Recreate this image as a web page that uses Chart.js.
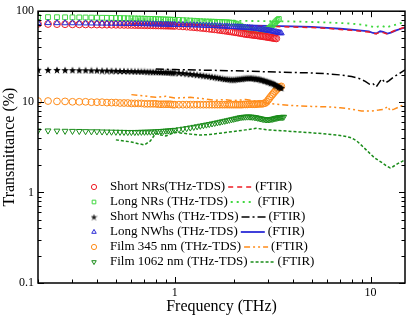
<!DOCTYPE html>
<html>
<head>
<meta charset="utf-8">
<script src="https://cdn.jsdelivr.net/npm/chart.js@4.4.0/dist/chart.umd.min.js"></script>
<style>
html, body { margin: 0; padding: 0; background: #fff; }
</style>
</head>
<body>
<canvas id="c" width="410" height="316"></canvas>
<script>
// THz-TDS frequency grid (THz)
const tdsFreq = [
  0.200,0.225,0.250,0.275,0.300,0.325,0.350,0.375,0.400,0.425,
  0.450,0.475,0.500,0.525,0.550,0.575,0.600,0.625,0.650,0.675,
  0.700,0.725,0.750,0.775,0.800,0.825,0.850,0.875,0.900,0.925,
  0.950,0.975,1.000,1.05,1.10,1.15,1.20,1.25,1.30,1.35,
  1.40,1.45,1.50,1.55,1.60,1.65,1.70,1.75,1.80,1.85,
  1.90,1.95,2.00,2.05,2.10,2.15,2.20,2.25,2.30,2.35,
  2.40,2.45,2.50,2.55,2.60,2.65,2.70,2.75,2.80,2.85,
  2.90,2.95,3.00,3.05,3.10,3.15,3.20,3.25,3.30,3.35,
  3.40,3.45,3.50,3.55,3.60
];

// transmittance (%), THz-TDS
const shortNRsTds = [
  72.5,72.2,72.0,71.8,71.6,71.5,71.4,71.3,71.2,71.0,
  71.0,70.9,70.8,70.7,70.6,70.5,70.4,70.3,70.2,70.1,
  70.0,69.9,69.8,69.7,69.6,69.5,69.4,69.3,69.2,69.1,
  69.0,68.9,68.8,68.5,68.0,67.5,67.0,66.5,66.0,65.5,
  65.0,64.5,64.0,63.5,63.0,62.5,62.0,61.5,61.0,60.5,
  60.0,59.5,59.0,58.5,58.0,57.5,57.0,56.5,56.0,55.7,
  55.4,55.1,54.8,54.5,54.2,53.9,53.6,53.3,53.0,52.7,
  52.4,52.1,51.8,51.5,51.2,50.9,50.6,50.3,50.0
];
const longNRsTds = [
  86.0,86.0,85.8,85.6,85.5,85.4,85.2,85.0,84.8,84.6,
  84.5,84.3,84.1,84.0,83.8,83.6,83.4,83.2,83.0,82.8,
  82.6,82.4,82.2,82.0,81.8,81.6,81.4,81.2,81.0,80.8,
  80.6,80.4,80.2,80.0,79.6,79.2,78.8,78.4,78.0,77.6,
  77.2,77.0,76.8,76.6,76.4,76.2,76.0,75.8,75.6,75.3,
  75.0,74.6,74.0,73.0,71.5,69.5,67.5,65.5,64.0,63.0,
  62.3,61.8,61.4,61.2,61.0,61.0,61.0,61.2,61.4,61.8,
  62.3,63.0,64.0,65.5,67.5,70.0,72.5,75.0,77.5,80.0,
  82.0
];
const shortNWhsTds = [
  22.6,22.5,22.5,22.4,22.4,22.3,22.3,22.2,22.2,22.1,
  22.1,22.0,22.0,21.9,21.9,21.8,21.8,21.7,21.7,21.6,
  21.6,21.5,21.5,21.4,21.4,21.3,21.3,21.2,21.2,21.1,
  21.1,21.0,21.0,20.9,20.7,20.5,20.3,20.1,19.9,19.7,
  19.5,19.3,19.1,18.9,18.7,18.5,18.3,18.1,17.9,17.8,
  17.7,17.6,17.6,17.7,17.8,17.9,18.0,18.1,18.2,18.3,
  18.3,18.3,18.2,18.1,18.0,17.9,17.8,17.6,17.4,17.2,
  17.0,16.8,16.6,16.4,16.2,16.0,15.8,15.5,15.2,14.9,
  14.6,14.4,14.2
];
const longNWhsTds = [
  74.5,74.3,74.2,74.0,74.0,73.8,73.7,73.6,73.5,73.4,
  73.3,73.2,73.1,73.0,72.9,72.8,72.7,72.6,72.5,72.4,
  72.3,72.2,72.1,72.0,71.9,71.8,71.7,71.6,71.5,71.4,
  71.3,71.2,71.1,71.0,70.8,70.6,70.4,70.2,70.0,69.8,
  69.6,69.4,69.2,69.0,68.8,68.6,68.4,68.2,68.0,67.8,
  67.6,67.4,67.2,67.0,66.8,66.6,66.4,66.2,66.0,65.8,
  65.5,65.2,64.9,64.6,64.3,64.0,63.6,63.2,62.8,62.4,
  62.0,61.6,61.2,60.8,60.4,60.0,59.6,59.2,58.8,58.4,
  58.0,57.6,57.2
];
const film345Tds = [
  10.2,10.2,10.1,10.1,10.0,10.0,10.0,9.9,9.9,9.9,
  9.8,9.8,9.8,9.7,9.7,9.7,9.6,9.6,9.6,9.6,
  9.5,9.5,9.5,9.5,9.5,9.4,9.4,9.4,9.4,9.4,
  9.4,9.3,9.3,9.3,9.3,9.3,9.3,9.3,9.3,9.3,
  9.3,9.3,9.3,9.3,9.3,9.3,9.3,9.3,9.3,9.3,
  9.3,9.3,9.3,9.3,9.3,9.3,9.3,9.35,9.35,9.35,
  9.4,9.4,9.4,9.4,9.4,9.45,9.5,9.5,9.5,9.6,
  9.7,10.0,10.5,11.0,11.5,12.0,12.5,13.0,13.5,14.0,
  14.3,14.6,14.8
];
const film1062Tds = [
  4.80,4.80,4.78,4.76,4.75,4.74,4.72,4.70,4.70,4.68,
  4.67,4.66,4.65,4.64,4.63,4.62,4.62,4.62,4.63,4.64,
  4.65,4.66,4.67,4.68,4.70,4.72,4.74,4.76,4.78,4.80,
  4.82,4.85,4.88,4.95,5.02,5.10,5.18,5.26,5.34,5.42,
  5.50,5.58,5.66,5.74,5.82,5.90,5.98,6.06,6.14,6.22,
  6.30,6.38,6.46,6.54,6.62,6.70,6.76,6.80,6.82,6.84,
  6.84,6.82,6.80,6.76,6.70,6.64,6.58,6.52,6.46,6.42,
  6.38,6.36,6.36,6.38,6.42,6.46,6.50,6.56,6.62,6.66,
  6.70,6.74,6.76,6.78,6.80
];

// FTIR curves: frequency (THz) and transmittance (%)
const shortNRsFtirF = [0.6,1,2,3,4,5,6,7,8,9,9.8,10.3,10.7,11.2,11.6,12.2,12.7,13.5,14.3,15];
const shortNRsFtir  = [72,70.5,69,68,67,66,64.5,63,61.5,60,59,57,56.5,59,58,56,58.5,62,64.5,66.5];
const longNRsFtirF = [0.6,0.8,1,1.5,2,3,4,5,6,7,8,9,10,10.5,11,11.5,12,12.5,13.5,14.3,15];
const longNRsFtir  = [82,81,80,79,78.5,77.5,77,76,75,74,73,71,68.5,66,68,68.5,66,68,71,74,76];
const shortNWhsFtirF = [0.8,1,1.5,2,3,4,5,6,7,8,8.8,9.4,9.9,10.3,10.7,11,11.4,11.9,12.4,13,14,15];
const shortNWhsFtir  = [23,22.7,22.3,22,21.4,21.1,20.8,20.4,19.8,19,18,16.8,15.6,15.8,14.6,16,17.9,16.2,17,18.5,20.5,22.5];
const longNWhsFtirF = [0.6,0.8,1,1.5,2,3,4,5,6,7,8,9,9.8,10.3,10.7,11.2,11.6,12.2,12.7,13.5,14.3,15];
const longNWhsFtir  = [73,72,71.5,70.5,70,69,68,67,65.5,64,62.5,61,60,57.5,56.8,60,59,56.5,58,61.5,64,66];
const film345FtirF = [0.6,0.7,0.8,0.9,1,1.2,1.4,1.6,1.8,2,2.3,2.6,3,3.5,4,5,6,7,8,9,10,11,11.8,12.2,12.6,13.2,14,15];
const film345Ftir  = [12,11.6,11.2,11.5,11,11.2,10.8,10.4,10.6,10.3,10.6,10.2,9.6,9.3,9.1,8.9,8.8,8.6,8.3,7.9,7.9,8.1,8.3,8.9,8,8.3,8.8,9.4];
const film1062FtirF = [0.5,0.55,0.6,0.65,0.7,0.75,0.8,0.85,0.9,0.95,1,1.1,1.2,1.35,1.5,1.7,2,2.3,2.6,3,3.5,4,5,6,7,7.5,8,8.5,9,9.5,10,10.5,11,11.5,12,12.6,13,13.5,14,14.5,15];
const film1062Ftir  = [3.8,3.7,3.6,3.45,3.35,3.7,4.5,4.3,4.2,4.4,4.6,4.5,4.4,4.3,4.35,4.5,4.7,4.9,5.1,4.9,4.8,4.7,4.55,4.4,4.25,4.15,4,3.7,3.3,2.95,2.65,2.4,2.25,2.12,1.98,1.86,1.92,2.02,2.12,2.2,2.3];

const legendNames = [
  'Short NRs(THz-TDS)', 'Long NRs (THz-TDS)', 'Short NWhs (THz-TDS)',
  'Long NWhs (THz-TDS)', 'Film 345 nm (THz-TDS)', 'Film 1062 nm (THz-TDS)'
];
const xTickValues = [1, 10];
const yTickValues = [0.1, 1, 10, 100];

const serif = '"Liberation Serif", "Times New Roman", serif';
const colors = ['#ee1c25', '#40d840', '#000000', '#2b2bd6', '#ff8c1a', '#1a8c1a'];

// small filled star used as point style
function makeStar(size, color) {
  const cv = document.createElement('canvas');
  cv.width = size; cv.height = size;
  const c = cv.getContext('2d');
  const r = size / 2, ri = r * 0.42;
  c.fillStyle = color;
  c.beginPath();
  for (let k = 0; k < 10; k++) {
    const rad = k % 2 === 0 ? r : ri;
    const ang = -Math.PI / 2 + k * Math.PI / 5;
    c.lineTo(r + rad * Math.cos(ang), r + 0.4 + rad * Math.sin(ang));
  }
  c.closePath();
  c.fill();
  return cv;
}
const starBig = makeStar(8, '#000');
const starSmall = makeStar(7, '#222');

function pts(fs, vs) {
  return vs.map((v, i) => ({ x: fs[i], y: v }));
}

function tdsSet(label, values, color, style, rot, order) {
  return {
    label: label,
    data: pts(tdsFreq, values),
    showLine: false,
    borderColor: color,
    backgroundColor: 'rgba(0,0,0,0)',
    pointStyle: style,
    pointRotation: rot || 0,
    pointRadius: 3.4,
    pointBorderWidth: 1,
    order: order || 0
  };
}

function ftirSet(label, fs, values, color, dash, width) {
  return {
    label: label,
    data: pts(fs, values),
    showLine: true,
    borderColor: color,
    borderDash: dash,
    borderWidth: width,
    pointRadius: 0,
    fill: false,
    tension: 0,
    order: 1
  };
}

// frame with inward ticks on all four sides
const framePlugin = {
  id: 'frame',
  afterDatasetsDraw(chart) {
    const { ctx, chartArea: a, scales: { x, y } } = chart;
    ctx.save();
    ctx.strokeStyle = '#000';
    ctx.lineWidth = 1;
    ctx.beginPath();
    for (let d = -1; d <= 2; d++) {
      for (let m = 1; m < 10; m++) {
        const v = m * Math.pow(10, d);
        const len = m === 1 ? 6 : 3.5;
        if (v >= 0.2 && v <= 15) {
          const px = Math.round(x.getPixelForValue(v)) + 0.5;
          ctx.moveTo(px, a.bottom); ctx.lineTo(px, a.bottom - len);
          ctx.moveTo(px, a.top); ctx.lineTo(px, a.top + len);
        }
        if (v >= 0.1 && v <= 100) {
          const py = Math.round(y.getPixelForValue(v)) + 0.5;
          ctx.moveTo(a.left, py); ctx.lineTo(a.left + len, py);
          ctx.moveTo(a.right, py); ctx.lineTo(a.right - len, py);
        }
      }
    }
    ctx.stroke();
    ctx.lineWidth = 1.5;
    ctx.strokeRect(a.left, a.top, a.right - a.left, a.bottom - a.top);
    ctx.restore();
  }
};

// legend: marker + name, then FTIR line sample + "(FTIR)"
const legendPlugin = {
  id: 'pairLegend',
  afterDraw(chart) {
    const ctx = chart.ctx;
    ctx.save();
    ctx.font = '13px ' + serif;
    ctx.textBaseline = 'middle';
    legendNames.forEach((name, i) => {
      const y = 187 + i * 15;
      const tds = chart.data.datasets[i];
      const ftir = chart.data.datasets[i + 6];
      ctx.setLineDash([]);
      ctx.strokeStyle = tds.borderColor;
      ctx.fillStyle = 'rgba(0,0,0,0)';
      ctx.lineWidth = 1;
      const style = tds.pointStyle === starBig ? starSmall : tds.pointStyle;
      Chart.helpers.drawPoint(ctx, { pointStyle: style, radius: 2.6, borderWidth: 1, rotation: tds.pointRotation }, 94, y);
      ctx.fillStyle = '#000';
      ctx.fillText(name, 110, y);
      const x0 = 110 + ctx.measureText(name).width + 3;
      ctx.beginPath();
      ctx.setLineDash(ftir.borderDash || []);
      ctx.lineWidth = ftir.borderWidth;
      ctx.strokeStyle = ftir.borderColor;
      ctx.moveTo(x0, y);
      ctx.lineTo(x0 + 24, y);
      ctx.stroke();
      ctx.setLineDash([]);
      ctx.fillText('(FTIR)', x0 + 27, y);
    });
    ctx.restore();
  }
};

const datasets = [
  tdsSet('Short NRs(THz-TDS)', shortNRsTds, colors[0], 'circle'),
  tdsSet('Long NRs (THz-TDS)', longNRsTds, colors[1], 'rect'),
  tdsSet('Short NWhs (THz-TDS)', shortNWhsTds, colors[2], starBig),
  tdsSet('Long NWhs (THz-TDS)', longNWhsTds, colors[3], 'triangle', 0, -1),
  tdsSet('Film 345 nm (THz-TDS)', film345Tds, colors[4], 'circle'),
  tdsSet('Film 1062 nm (THz-TDS)', film1062Tds, colors[5], 'triangle', 180),
  ftirSet('Short NRs (FTIR)', shortNRsFtirF, shortNRsFtir, colors[0], [5, 4], 1.5),
  ftirSet('Long NRs (FTIR)', longNRsFtirF, longNRsFtir, colors[1], [2, 4], 1.8),
  ftirSet('Short NWhs (FTIR)', shortNWhsFtirF, shortNWhsFtir, colors[2], [8, 3, 2, 3], 1.5),
  ftirSet('Long NWhs (FTIR)', longNWhsFtirF, longNWhsFtir, colors[3], [], 1.8),
  ftirSet('Film 345 nm (FTIR)', film345FtirF, film345Ftir, colors[4], [6, 3, 2, 3, 2, 3], 1.5),
  ftirSet('Film 1062 nm (FTIR)', film1062FtirF, film1062Ftir, colors[5], [3, 2], 1.5)
];

new Chart(document.getElementById('c'), {
  type: 'scatter',
  data: { datasets: datasets },
  options: {
    responsive: false,
    animation: false,
    devicePixelRatio: 1,
    layout: { padding: { top: 11, right: 4, left: 0, bottom: 0 } },
    plugins: { legend: { display: false }, tooltip: { enabled: false } },
    scales: {
      x: {
        type: 'logarithmic',
        min: 0.2,
        max: 15,
        grid: { display: false, drawTicks: false },
        border: { display: false },
        afterBuildTicks: s => { s.ticks = xTickValues.map(v => ({ value: v })); },
        afterFit: s => { s.height = 33; },
        ticks: {
          autoSkip: false, maxRotation: 0, padding: 3, color: '#000',
          font: { family: serif, size: 12 },
          callback: v => String(v)
        },
        title: {
          display: true, text: 'Frequency (THz)', color: '#000', padding: 0,
          font: { family: serif, size: 16 }
        }
      },
      y: {
        type: 'logarithmic',
        min: 0.1,
        max: 100,
        grid: { display: false, drawTicks: false },
        border: { display: false },
        afterBuildTicks: s => { s.ticks = yTickValues.map(v => ({ value: v })); },
        afterFit: s => { s.width = 38; },
        ticks: {
          autoSkip: false, padding: 4, color: '#000',
          font: { family: serif, size: 12 },
          callback: v => String(v)
        },
        title: {
          display: true, text: 'Transmittance (%)', color: '#000', padding: 0,
          font: { family: serif, size: 16 }
        }
      }
    }
  },
  plugins: [framePlugin, legendPlugin]
});
</script>
</body>
</html>
